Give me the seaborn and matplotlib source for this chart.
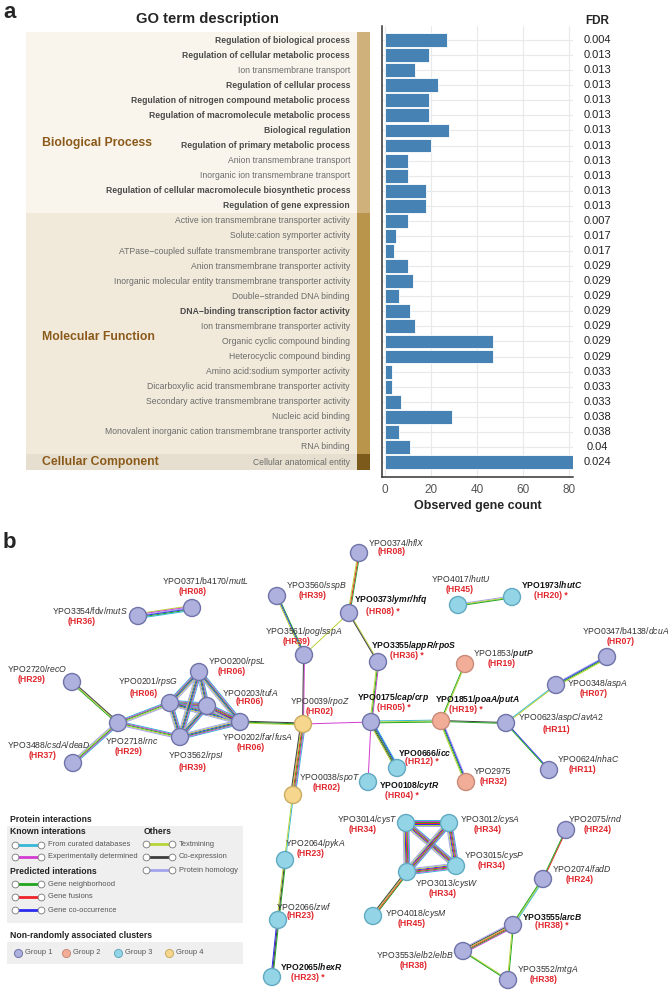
import matplotlib
matplotlib.use('Agg')
import numpy as np
import pandas as pd
import matplotlib.pyplot as plt
from matplotlib.patches import Rectangle
from matplotlib.transforms import blended_transform_factory
import seaborn as sns

# ---------------- panel a: GO enrichment ----------------
go_terms = [
    'Regulation of biological process',
    'Regulation of cellular metabolic process',
    'Ion transmembrane transport',
    'Regulation of cellular process',
    'Regulation of nitrogen compound metabolic process',
    'Regulation of macromolecule metabolic process',
    'Biological regulation',
    'Regulation of primary metabolic process',
    'Anion transmembrane transport',
    'Inorganic ion transmembrane transport',
    'Regulation of cellular macromolecule biosynthetic process',
    'Regulation of gene expression',
    'Active ion transmembrane transporter activity',
    'Solute:cation symporter activity',
    'ATPase\u2212coupled sulfate transmembrane transporter activity',
    'Anion transmembrane transporter activity',
    'Inorganic molecular entity transmembrane transporter activity',
    'Double\u2212stranded DNA binding',
    'DNA\u2212binding transcription factor activity',
    'Ion transmembrane transporter activity',
    'Organic cyclic compound binding',
    'Heterocyclic compound binding',
    'Amino acid:sodium symporter activity',
    'Dicarboxylic acid transmembrane transporter activity',
    'Secondary active transmembrane transporter activity',
    'Nucleic acid binding',
    'Monovalent inorganic cation transmembrane transporter activity',
    'RNA binding',
    'Cellular anatomical entity',
]
go_bold = [1, 1, 0, 1, 1, 1, 1, 1, 0, 0, 1, 1,
           0, 0, 0, 0, 0, 0, 1, 0, 0, 0, 0, 0, 0, 0, 0, 0,
           0]
gene_counts = [27, 19, 13, 23, 19, 19, 28, 20, 10, 10, 18, 18,
               10, 5, 4, 10, 12, 6, 11, 13, 47, 47, 3, 3, 7, 29, 6, 11,
               82]
fdr_values = [0.004, 0.013, 0.013, 0.013, 0.013, 0.013, 0.013, 0.013, 0.013, 0.013, 0.013, 0.013,
              0.007, 0.017, 0.017, 0.029, 0.029, 0.029, 0.029, 0.029, 0.029, 0.029,
              0.033, 0.033, 0.033, 0.038, 0.038, 0.04,
              0.024]
categories = ['Biological Process', 'Molecular Function', 'Cellular Component']
category_sizes = [12, 16, 1]

# ---------------- panel b: interaction network ----------------
node_label = ['YPO3354/fdv/', 'YPO0371/b4170/', 'YPO3560/', 'YPO3561/', 'YPO0374/', 'YPO0373/',
              'YPO4017/', 'YPO1973/', 'YPO3355/', 'YPO2720/', 'YPO0200/', 'YPO0201/',
              'YPO0203/', 'YPO0202/', 'YPO2718/', 'YPO3562/', 'YPO3488/', 'YPO0039/',
              'YPO0175/', 'YPO1853/', 'YPO1851/', 'YPO0347/b4138/', 'YPO0348/', 'YPO0623/',
              'YPO0666/', 'YPO0108/', 'YPO2975', 'YPO0624/', 'YPO0038/', 'YPO2064/',
              'YPO2066/', 'YPO2065/', 'YPO3014/', 'YPO3012/', 'YPO3015/', 'YPO3013/',
              'YPO4018/', 'YPO2075/', 'YPO2074/', 'YPO3555/', 'YPO3553/', 'YPO3552/']
node_gene = ['mutS', 'mutL', 'sspB', 'pog/sspA', 'hflX', 'ymr/hfq',
             'hutU', 'hutC', 'appR/rpoS', 'recO', 'rpsL', 'rpsG',
             'tufA', 'far/fusA', 'rnc', 'rpsI', 'csdA/deaD', 'rpoZ',
             'cap/crp', 'putP', 'poaA/putA', 'dcuA', 'aspA', 'aspC/avtA2',
             'icc', 'cytR', '', 'nhaC', 'spoT', 'pykA',
             'zwf', 'hexR', 'cysT', 'cysA', 'cysP', 'cysW',
             'cysM', 'rnd', 'fadD', 'arcB', 'elb2/elbB', 'mtgA']
node_hr = ['HR36', 'HR08', 'HR39', 'HR39', 'HR08', 'HR08',
           'HR45', 'HR20', 'HR36', 'HR29', 'HR06', 'HR06',
           'HR06', 'HR06', 'HR29', 'HR39', 'HR37', 'HR02',
           'HR05', 'HR19', 'HR19', 'HR07', 'HR07', 'HR11',
           'HR12', 'HR04', 'HR32', 'HR11', 'HR02', 'HR23',
           'HR23', 'HR23', 'HR34', 'HR34', 'HR34', 'HR34',
           'HR45', 'HR24', 'HR24', 'HR38', 'HR38', 'HR38']
# 0 = plain, 1 = gene name bold, 2 = bold + significant (*)
node_emph = [0, 0, 0, 0, 0, 2,
             0, 2, 2, 0, 0, 0,
             0, 0, 0, 0, 0, 0,
             2, 1, 2, 0, 0, 0,
             2, 2, 0, 0, 0, 0,
             0, 2, 0, 0, 0, 0,
             0, 0, 0, 2, 0, 0]
node_group = [1, 1, 1, 1, 1, 1,
              3, 3, 1, 1, 1, 1,
              1, 1, 1, 1, 1, 4,
              1, 2, 2, 1, 1, 1,
              3, 3, 2, 1, 4, 3,
              3, 3, 3, 3, 3, 3,
              3, 1, 1, 1, 1, 1]
node_x = [138, 192, 277, 304, 359, 349,
          458, 512, 378, 72, 199, 170,
          207, 240, 118, 180, 73, 303,
          371, 465, 441, 607, 556, 506,
          397, 368, 466, 549, 293, 285,
          278, 272, 406, 449, 456, 407,
          373, 566, 543, 513, 463, 508]
node_y = [616, 608, 596, 655, 553, 613,
          605, 597, 662, 682, 672, 703,
          706, 722, 723, 737, 763, 724,
          722, 664, 721, 657, 685, 723,
          768, 782, 782, 770, 795, 860,
          920, 977, 823, 823, 866, 872,
          916, 830, 879, 925, 951, 980]

RIBO = 'cmgbyh'
CYS = 'cmgrbyh'
edges = [
    ('YPO3354', 'YPO0371', 'ymhbgc'),
    ('YPO3560', 'YPO3561', 'gby'),
    ('YPO0374', 'YPO0373', 'gry'),
    ('YPO0373', 'YPO3561', 'y'),
    ('YPO0373', 'YPO3355', 'yk'),
    ('YPO3355', 'YPO0175', 'mgy'),
    ('YPO3561', 'YPO0039', 'mk'),
    ('YPO0039', 'YPO0175', 'm'),
    ('YPO0039', 'YPO0202', 'ygk'),
    ('YPO0039', 'YPO0038', 'cmgryk'),
    ('YPO0038', 'YPO2064', 'cy'),
    ('YPO2064', 'YPO2066', 'gky'),
    ('YPO2066', 'YPO2065', 'gkb'),
    ('YPO0175', 'YPO1851', 'cyg'),
    ('YPO0175', 'YPO0666', 'cbgky'),
    ('YPO0175', 'YPO0108', 'm'),
    ('YPO1851', 'YPO1853', 'gy'),
    ('YPO1851', 'YPO2975', 'hbgy'),
    ('YPO1851', 'YPO0623', 'kg'),
    ('YPO0623', 'YPO0348', 'cy'),
    ('YPO0348', 'YPO0347', 'hbgy'),
    ('YPO0623', 'YPO0624', 'bg'),
    ('YPO4017', 'YPO1973', 'hyg'),
    ('YPO0201', 'YPO0200', RIBO),
    ('YPO0201', 'YPO0203', 'cmgrbyh'),
    ('YPO0201', 'YPO0202', RIBO),
    ('YPO0201', 'YPO3562', RIBO),
    ('YPO0200', 'YPO0203', RIBO),
    ('YPO0200', 'YPO0202', RIBO),
    ('YPO0200', 'YPO3562', RIBO),
    ('YPO0203', 'YPO0202', 'cmgrbyh'),
    ('YPO0203', 'YPO3562', RIBO),
    ('YPO0202', 'YPO3562', RIBO),
    ('YPO2718', 'YPO0201', 'cmgyh'),
    ('YPO2718', 'YPO3562', 'cmgyh'),
    ('YPO2718', 'YPO2720', 'gyk'),
    ('YPO2718', 'YPO3488', 'cmgyh'),
    ('YPO3014', 'YPO3012', CYS),
    ('YPO3014', 'YPO3015', CYS),
    ('YPO3014', 'YPO3013', CYS),
    ('YPO3012', 'YPO3015', CYS),
    ('YPO3012', 'YPO3013', CYS),
    ('YPO3015', 'YPO3013', CYS),
    ('YPO3013', 'YPO4018', 'gryk'),
    ('YPO2075', 'YPO2074', 'rg'),
    ('YPO2074', 'YPO3555', 'cyg'),
    ('YPO3555', 'YPO3553', 'mgrykh'),
    ('YPO3555', 'YPO3552', 'gy'),
    ('YPO3553', 'YPO3552', 'yg'),
]

# label placement (gene label left x, y ; HR label left x, y) in pixels
label_pos = {
    'YPO3354': (52, 610, 68, 621), 'YPO0371': (162, 580, 179, 591),
    'YPO3560': (286, 585, 299, 596), 'YPO3561': (265, 631, 283, 641),
    'YPO0374': (368, 542, 378, 552), 'YPO0373': (354, 600, 366, 611),
    'YPO4017': (431, 578, 446, 589), 'YPO1973': (521, 585, 534, 596),
    'YPO3355': (371, 646, 390, 656), 'YPO2720': (7, 668, 18, 679),
    'YPO0200': (208, 661, 218, 672), 'YPO0201': (118, 682, 130, 693),
    'YPO0203': (222, 692, 236, 702), 'YPO0202': (222, 737, 237, 748),
    'YPO2718': (105, 741, 115, 752), 'YPO3562': (168, 756, 179, 767),
    'YPO3488': (7, 745, 29, 756), 'YPO0039': (290, 701, 306, 711),
    'YPO0175': (357, 697, 377, 707), 'YPO1853': (473, 653, 488, 664),
    'YPO1851': (435, 699, 449, 709), 'YPO0347': (582, 631, 607, 642),
    'YPO0348': (567, 683, 580, 694), 'YPO0623': (518, 718, 543, 729),
    'YPO0666': (398, 752, 405, 762), 'YPO0108': (379, 785, 385, 796),
    'YPO2975': (474, 771, 480, 781), 'YPO0624': (557, 758, 569, 769),
    'YPO0038': (299, 777, 313, 788), 'YPO2064': (285, 843, 297, 854),
    'YPO2066': (276, 906, 287, 916), 'YPO2065': (280, 967, 291, 978),
    'YPO3014': (337, 819, 349, 829), 'YPO3012': (460, 819, 474, 829),
    'YPO3015': (464, 855, 478, 866), 'YPO3013': (415, 883, 429, 894),
    'YPO4018': (385, 913, 398, 924), 'YPO2075': (568, 818, 584, 829),
    'YPO2074': (552, 868, 566, 879), 'YPO3555': (522, 916, 535, 926),
    'YPO3553': (376, 954, 400, 965), 'YPO3552': (517, 969, 530, 980),
}

edge_colors = {'c': '#33b8d8', 'm': '#d23bd2', 'g': '#1fa51f', 'r': '#ef2229',
               'b': '#2b2bef', 'y': '#b6d337', 'k': '#3d3d3d', 'h': '#a3a3ee'}
group_face = {1: '#aeb1de', 2: '#f2ad98', 3: '#93d4e6', 4: '#f5d68c'}
group_edge = {1: '#6f73a8', 2: '#c98a78', 3: '#62aac2', 4: '#c9ac60'}
hr_red = '#e0262c'

sns.set_style('white')
plt.rcParams['font.family'] = ['Liberation Sans', 'DejaVu Sans']
plt.rcParams['mathtext.fontset'] = 'custom'
plt.rcParams['mathtext.rm'] = 'Liberation Sans'
plt.rcParams['mathtext.it'] = 'Liberation Sans:italic'
plt.rcParams['mathtext.bf'] = 'Liberation Sans:bold'
plt.rcParams['mathtext.bfit'] = 'Liberation Sans:bold:italic'

fig = plt.figure(figsize=(6.68, 9.9), dpi=100)
canvas = fig.add_axes([0, 0, 1, 1])
canvas.set_xlim(0, 668)
canvas.set_ylim(990, 0)
canvas.axis('off')

# bar chart
ax = fig.add_axes([382 / 668, 1 - 477 / 990, 190.7 / 668, 451 / 990])
go_df = pd.DataFrame({'term': go_terms, 'count': gene_counts})
sns.barplot(data=go_df, x='count', y='term', orient='h', color='#4682b4', saturation=1,
            edgecolor='white', linewidth=0.6, width=0.92, ax=ax)
ax.set_xlim(-1.3, 81.6)
ax.set_ylim(len(go_terms) - 0.005, -0.93)
ax.set_xticks([0, 20, 40, 60, 80])
ax.set_yticks(range(len(go_terms)))
ax.set_yticklabels([])
ax.tick_params(axis='y', length=0)
ax.tick_params(axis='x', length=3, width=0.8, color='#333333', labelsize=8.5,
               labelcolor='#555555', pad=2)
ax.grid(True, color='#e9e9e9', lw=0.8)
ax.set_axisbelow(True)
sns.despine(ax=ax)
for side in ['left', 'bottom']:
    ax.spines[side].set_color('#333333')
    ax.spines[side].set_linewidth(1.1)
ax.set_xlabel('Observed gene count', fontsize=9, fontweight='bold', labelpad=3)
ax.set_ylabel('')

trans = blended_transform_factory(canvas.transData, ax.transData)
band_bg = ['#f9f5ec', '#f1eadb', '#e6dfcf']
band_strip = ['#cfb27b', '#b9954b', '#7b5a1c']
cat_label_row = [6.85, 19.7, 28]
start = 0
for cat, n, bg, st, lr in zip(categories, category_sizes, band_bg, band_strip, cat_label_row):
    canvas.add_patch(Rectangle((26, start - 0.5), 331, n, transform=trans, color=bg, lw=0, zorder=0))
    canvas.add_patch(Rectangle((357, start - 0.5), 13, n, transform=trans, color=st, lw=0, zorder=0))
    canvas.text(42, lr, cat, transform=trans, ha='left', va='center', fontsize=8.8,
                fontweight='bold', color='#8b5a1a')
    start += n

for i, (term, b, fdr) in enumerate(zip(go_terms, go_bold, fdr_values)):
    canvas.text(350, i, term, transform=trans, ha='right', va='center', fontsize=6.2,
                fontweight='bold' if b else 'normal', color='#4a4a4a' if b else '#6b6b6b')
    canvas.text(597, i, f'{fdr:g}', transform=trans, ha='center', va='center',
                fontsize=8, color='#222222')

canvas.text(207, 19, 'GO term description', ha='center', va='center', fontsize=10.6, fontweight='bold')
canvas.text(597, 21, 'FDR', ha='center', va='center', fontsize=8.5, fontweight='bold')
canvas.text(3, 12, 'a', ha='left', va='center', fontsize=16, fontweight='bold')
canvas.text(3, 543, 'b', ha='left', va='center', fontsize=16, fontweight='bold')

# network edges
node_ids = [lab.split('/')[0] for lab in node_label]
pos = {nid: (x, y) for nid, x, y in zip(node_ids, node_x, node_y)}
for a_id, b_id, codes in edges:
    x0, y0 = pos[a_id]
    x1, y1 = pos[b_id]
    L = np.hypot(x1 - x0, y1 - y0)
    nx, ny = -(y1 - y0) / L, (x1 - x0) / L
    n = len(codes)
    for k, c in enumerate(codes):
        off = (k - (n - 1) / 2) * 0.95
        canvas.plot([x0 + nx * off, x1 + nx * off], [y0 + ny * off, y1 + ny * off],
                    color=edge_colors[c], lw=0.7, solid_capstyle='butt', zorder=1)

# network nodes
net_df = pd.DataFrame({'x': node_x, 'y': node_y, 'group': node_group})
sns.scatterplot(data=net_df, x='x', y='y', hue='group', palette=group_face, s=150,
                edgecolor=[group_edge[g] for g in node_group], linewidth=1.0,
                legend=False, ax=canvas, zorder=3)
canvas.set_xlim(0, 668)
canvas.set_ylim(990, 0)
canvas.axis('off')

for nid, lab, gene, hr, emph in zip(node_ids, node_label, node_gene, node_hr, node_emph):
    lx, ly, hx, hy = label_pos[nid]
    txt = lab
    if gene:
        cmd = r'\mathbfit' if emph else r'\mathit'
        txt = lab + '$' + cmd + '{' + gene + '}$'
    canvas.text(lx, ly, txt, ha='left', va='center', fontsize=6.2,
                fontweight='bold' if emph == 2 else 'normal',
                color='#111111' if emph == 2 else '#333333', zorder=4)
    canvas.text(hx, hy, f'({hr})' + (' *' if emph == 2 else ''), ha='left', va='center',
                fontsize=6.2, fontweight='bold', color=hr_red, zorder=4)

# legend
head = dict(fontsize=6.2, fontweight='bold', color='#222222', va='center', ha='left')
item = dict(fontsize=5.4, color='#555555', va='center', ha='left')
canvas.text(10, 820, 'Protein interactions', **head)
canvas.add_patch(Rectangle((7, 826), 236, 97, color='#efefef', lw=0, zorder=0))
canvas.text(10, 832, 'Known interations', **head)
canvas.text(144, 832, 'Others', **head)
canvas.text(10, 872, 'Predicted interations', **head)
legend_items = [('From curated databases', 'c', 15, 845),
                ('Experimentally determined', 'm', 15, 857),
                ('Gene neighborhood', 'g', 15, 884),
                ('Gene fusions', 'r', 15, 897),
                ('Gene co-occurrence', 'b', 15, 910),
                ('Textmining', 'y', 146, 844),
                ('Co-expression', 'k', 146, 857),
                ('Protein homology', 'h', 146, 870)]
for label, code, x0, y in legend_items:
    canvas.plot([x0, x0 + 26], [y, y], color=edge_colors[code], lw=2.0, zorder=2)
    canvas.scatter([x0, x0 + 26], [y, y], s=24, facecolor='white', edgecolor='#777777',
                   linewidth=0.6, zorder=3)
    canvas.text(x0 + 33, y, label, **item)

canvas.text(10, 935, 'Non-randomly associated clusters', **head)
canvas.add_patch(Rectangle((7, 942), 236, 22, color='#efefef', lw=0, zorder=0))
for g, gx in zip([1, 2, 3, 4], [18, 66, 118, 169]):
    canvas.scatter([gx], [953], s=34, facecolor=group_face[g], edgecolor=group_edge[g],
                   linewidth=0.7, zorder=3)
    canvas.text(gx + 7, 953, f'Group {g}', **item)

fig.savefig('out.png', dpi=100)
